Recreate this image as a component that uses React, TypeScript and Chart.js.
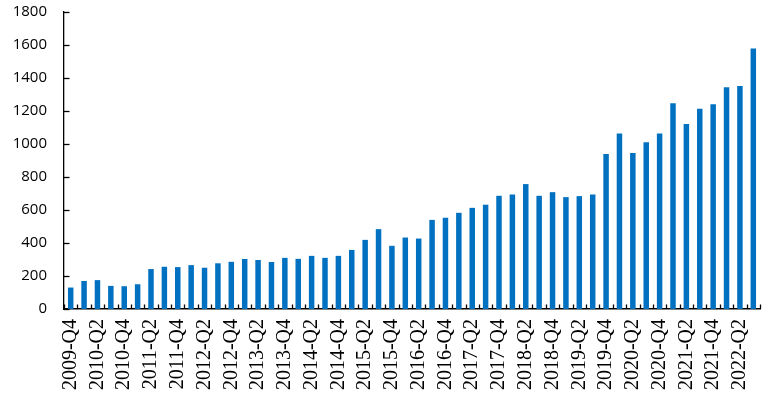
import React, { useEffect, useRef } from "react";
import { Chart, registerables } from "chart.js";

Chart.register(...registerables);

const categories: string[] = [
  "2009-Q4",
  "2010-Q1", "2010-Q2", "2010-Q3", "2010-Q4",
  "2011-Q1", "2011-Q2", "2011-Q3", "2011-Q4",
  "2012-Q1", "2012-Q2", "2012-Q3", "2012-Q4",
  "2013-Q1", "2013-Q2", "2013-Q3", "2013-Q4",
  "2014-Q1", "2014-Q2", "2014-Q3", "2014-Q4",
  "2015-Q1", "2015-Q2", "2015-Q3", "2015-Q4",
  "2016-Q1", "2016-Q2", "2016-Q3", "2016-Q4",
  "2017-Q1", "2017-Q2", "2017-Q3", "2017-Q4",
  "2018-Q1", "2018-Q2", "2018-Q3", "2018-Q4",
  "2019-Q1", "2019-Q2", "2019-Q3", "2019-Q4",
  "2020-Q1", "2020-Q2", "2020-Q3", "2020-Q4",
  "2021-Q1", "2021-Q2", "2021-Q3", "2021-Q4",
  "2022-Q1", "2022-Q2", "2022-Q3",
];

const values: number[] = [
  130,
  170, 175, 140, 138,
  150, 242, 256, 254,
  266, 250, 277, 286,
  303, 297, 285, 310,
  304, 322, 310, 322,
  358, 419, 484, 383,
  433, 427, 540, 553,
  583, 613, 632, 686,
  694, 757, 686, 708,
  678, 684, 694, 939,
  1063, 945, 1010, 1063,
  1247, 1121, 1213, 1241,
  1344, 1352, 1579,
];

const yMin = 0;
const yMax = 1800;
const yStep = 200;

const innerTicks = {
  id: "innerTicks",
  afterDraw(chart: any) {
    const ctx = chart.ctx;
    const xs = chart.scales.x;
    const ys = chart.scales.y;
    ctx.save();
    ctx.strokeStyle = "#000";
    ctx.lineWidth = 1.3;
    const n = xs.ticks.length;
    const step = xs.width / n;
    for (let i = 0; i <= n; i++) {
      const x = Math.round(xs.left + i * step) + 0.5;
      ctx.beginPath();
      ctx.moveTo(x, ys.bottom);
      ctx.lineTo(x, ys.bottom - 4.5);
      ctx.stroke();
    }
    ys.ticks.forEach((t: any) => {
      const y = Math.round(ys.getPixelForValue(t.value)) + 0.5;
      ctx.beginPath();
      ctx.moveTo(xs.left, y);
      ctx.lineTo(xs.left + 5.5, y);
      ctx.stroke();
    });
    ctx.restore();
  },
};

const serif = '"Liberation Serif", serif';
const sans = '"Open Sans", sans-serif';

export default function App() {
  const ref = useRef<HTMLCanvasElement | null>(null);
  useEffect(() => {
    if (!ref.current) return;
    const chart = new Chart(ref.current, {
      type: "bar",
      data: {
        labels: categories,
        datasets: [
          {
            data: values,
            backgroundColor: "#0070C0",
            barPercentage: 0.41,
            categoryPercentage: 1,
          },
        ],
      },
      options: {
        animation: false,
        responsive: true,
        maintainAspectRatio: false,
        layout: { padding: { top: 12, right: 2, left: 0, bottom: 0 } },
        plugins: {
          legend: { display: false },
          tooltip: { enabled: false },
        },
        scales: {
          x: {
            grid: { display: false, drawTicks: false },
            border: { display: true, color: "#000", width: 1.6 },
            ticks: {
              autoSkip: false,
              maxRotation: 90,
              minRotation: 90,
              padding: 10,
              color: "#000",
              font: { family: serif, size: 20 },
              callback: (_v: any, i: number) => (i % 2 === 0 ? categories[i] : ""),
            },
            afterFit: (s: any) => {
              s.height = 84;
              s.paddingLeft = 0;
              s.paddingRight = 0;
            },
          },
          y: {
            min: yMin,
            max: yMax,
            grid: { display: false, drawTicks: false },
            border: { display: true, color: "#000", width: 1.3 },
            ticks: {
              stepSize: yStep,
              padding: 17,
              color: "#000",
              font: { family: sans, size: 15 },
              callback: (v: any) => String(v),
            },
            afterFit: (s: any) => {
              s.width = 64;
              s.paddingTop = 0;
              s.paddingBottom = 0;
            },
          },
        },
      },
      plugins: [innerTicks],
    });
    return () => chart.destroy();
  }, []);
  return (
    <div style={{ position: "absolute", left: 0, top: 0, width: 762, height: 393 }}>
      <canvas ref={ref} />
    </div>
  );
}
